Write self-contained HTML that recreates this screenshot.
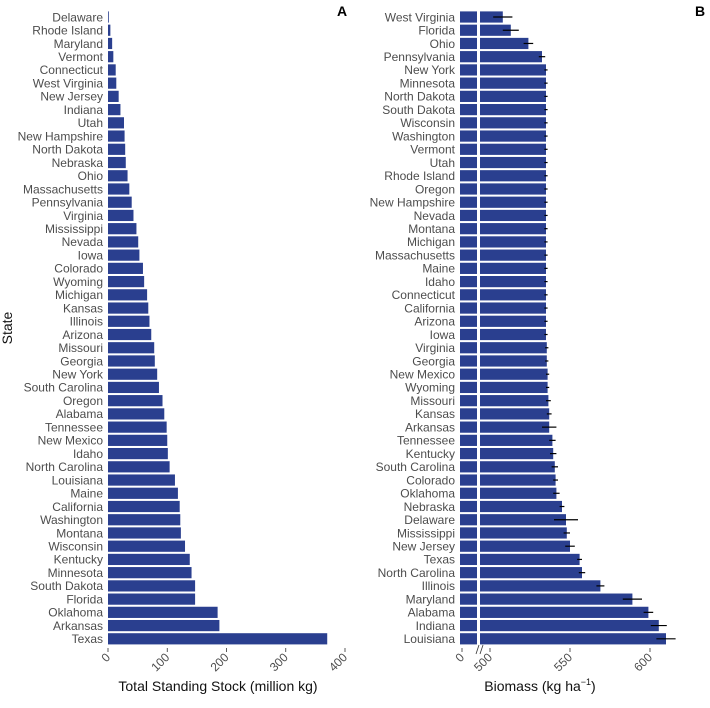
<!DOCTYPE html>
<html><head><meta charset="utf-8">
<style>
html,body{margin:0;padding:0;background:#fff;}
svg{display:block;font-family:"Liberation Sans",sans-serif;}
</style></head>
<body>
<svg id="chart" width="710" height="708" viewBox="0 0 710 708"></svg>
<script>
const statesA=["Delaware","Rhode Island","Maryland","Vermont","Connecticut","West Virginia","New Jersey","Indiana","Utah","New Hampshire","North Dakota","Nebraska","Ohio","Massachusetts","Pennsylvania","Virginia","Mississippi","Nevada","Iowa","Colorado","Wyoming","Michigan","Kansas","Illinois","Arizona","Missouri","Georgia","New York","South Carolina","Oregon","Alabama","Tennessee","New Mexico","Idaho","North Carolina","Louisiana","Maine","California","Washington","Montana","Wisconsin","Kentucky","Minnesota","South Dakota","Florida","Oklahoma","Arkansas","Texas"];
const stockA=[0.5,4,7,9,13,14,18,21,27,28,29,30,33,36,40,43,48,51,53,59,61,66,68,70,73,78,79,83,86,92,95,99,100,101,104,113,118,121,122,123,130,138,141,147,147,185,188,370];
const ticksA=[0,100,200,300,400];
const statesB=["West Virginia","Florida","Ohio","Pennsylvania","New York","Minnesota","North Dakota","South Dakota","Wisconsin","Washington","Vermont","Utah","Rhode Island","Oregon","New Hampshire","Nevada","Montana","Michigan","Massachusetts","Maine","Idaho","Connecticut","California","Arizona","Iowa","Virginia","Georgia","New Mexico","Wyoming","Missouri","Kansas","Arkansas","Tennessee","Kentucky","South Carolina","Colorado","Oklahoma","Nebraska","Delaware","Mississippi","New Jersey","Texas","North Carolina","Illinois","Maryland","Alabama","Indiana","Louisiana"];
const biomassB=[508,513,524,532.5,535,535,535,535,535,535,535,535,535,535,535,535,535,535,535,535,535,535,535,535,535,535.5,535.5,536,536,536.5,537,537,539,539.5,540.5,541,541.5,545,547.5,548,550,556,557.5,569,589,599,605.5,610];
const errB=[6,5,3,2,1,1,1,1,1,1,1,1,1,1,1,1,1,1,1,1,1,1,1,1,1,1,1,1,1,1.5,1.5,4.5,2,2,2,1.5,2,1.5,7.5,2,3,1.5,2,2.5,6,3,5,6];
const ticksB=[500,550,600];

const NS="http://www.w3.org/2000/svg";
const svg=document.getElementById('chart');
function mk(tag,attrs,parent){const e=document.createElementNS(NS,tag);for(const k in attrs)e.setAttribute(k,attrs[k]);(parent||svg).appendChild(e);return e;}
const BAR="#2a3f8f", TXT="#4d4d4d";
const rowY=i=>17+i*13.23;
const barH=11.2;

// Panel A
const xA=v=>108+v*0.5925;
const gA=mk('g',{});


statesA.forEach((s,i)=>{
  const t=mk('text',{x:103,y:rowY(i)+4.3,'text-anchor':'end','font-size':12,fill:TXT},gA);
  t.textContent=s;
  
  
  const r=mk('rect',{x:xA(0),y:rowY(i)-barH/2,width:Math.max(0.8,xA(stockA[i])-xA(0)),height:barH,fill:BAR},gA);
  
  
});
ticksA.forEach(v=>{
  mk('line',{x1:xA(v),x2:xA(v),y1:648,y2:652,stroke:'#333','stroke-width':0.8},gA);
  const t=mk('text',{x:0,y:0,'text-anchor':'end','font-size':12,fill:TXT,transform:`translate(${xA(v)+3},${658}) rotate(-45)`},gA);
  t.textContent=v;
  
  
});
let t=mk('text',{x:218,y:691,'text-anchor':'middle','font-size':14,fill:'#111'});
t.textContent='Total Standing Stock (million kg)';


t=mk('text',{x:0,y:0,'text-anchor':'middle','font-size':14,fill:'#111',transform:'translate(12,328) rotate(-90)'});
t.textContent='State';


t=mk('text',{x:337,y:16,'font-size':14,'font-weight':'bold',fill:'#000'});
t.textContent='A';



// Panel B (broken axis)
const xB=v=>490+(v-500)*1.6;
const gB=mk('g',{});


statesB.forEach((s,i)=>{
  const y=rowY(i);
  const tt=mk('text',{x:455,y:y+4.3,'text-anchor':'end','font-size':12,fill:TXT},gB);
  tt.textContent=s;
  
  
  const r1=mk('rect',{x:460,y:y-barH/2,width:17,height:barH,fill:BAR},gB);
  
  
  const r2=mk('rect',{x:480,y:y-barH/2,width:xB(biomassB[i])-480,height:barH,fill:BAR},gB);
  
  
  const e=mk('line',{x1:xB(biomassB[i]-errB[i]),x2:xB(biomassB[i]+errB[i]),y1:y,y2:y,stroke:'#000','stroke-width':1.2},gB);
  
  
});
mk('line',{x1:462,x2:462,y1:648,y2:652,stroke:'#333','stroke-width':0.8},gB);
t=mk('text',{x:0,y:0,'text-anchor':'end','font-size':12,fill:TXT,transform:'translate(465,658) rotate(-45)'},gB);
t.textContent='0';


mk('line',{x1:476,x2:479,y1:654,y2:645,stroke:'#333','stroke-width':0.8},gB);
mk('line',{x1:480,x2:483,y1:654,y2:645,stroke:'#333','stroke-width':0.8},gB);
ticksB.forEach(v=>{
  mk('line',{x1:xB(v),x2:xB(v),y1:648,y2:652,stroke:'#333','stroke-width':0.8},gB);
  const tt=mk('text',{x:0,y:0,'text-anchor':'end','font-size':12,fill:TXT,transform:`translate(${xB(v)+3},${658}) rotate(-45)`},gB);
  tt.textContent=v;
  
  
});
t=mk('text',{x:540,y:691,'text-anchor':'middle','font-size':14,fill:'#111'});
t.innerHTML='Biomass (kg ha<tspan dy="-6" font-size="9">−1</tspan><tspan dy="6">)</tspan>';


t=mk('text',{x:695,y:16,'font-size':14,'font-weight':'bold',fill:'#000'});
t.textContent='B';


</script>
</body></html>
